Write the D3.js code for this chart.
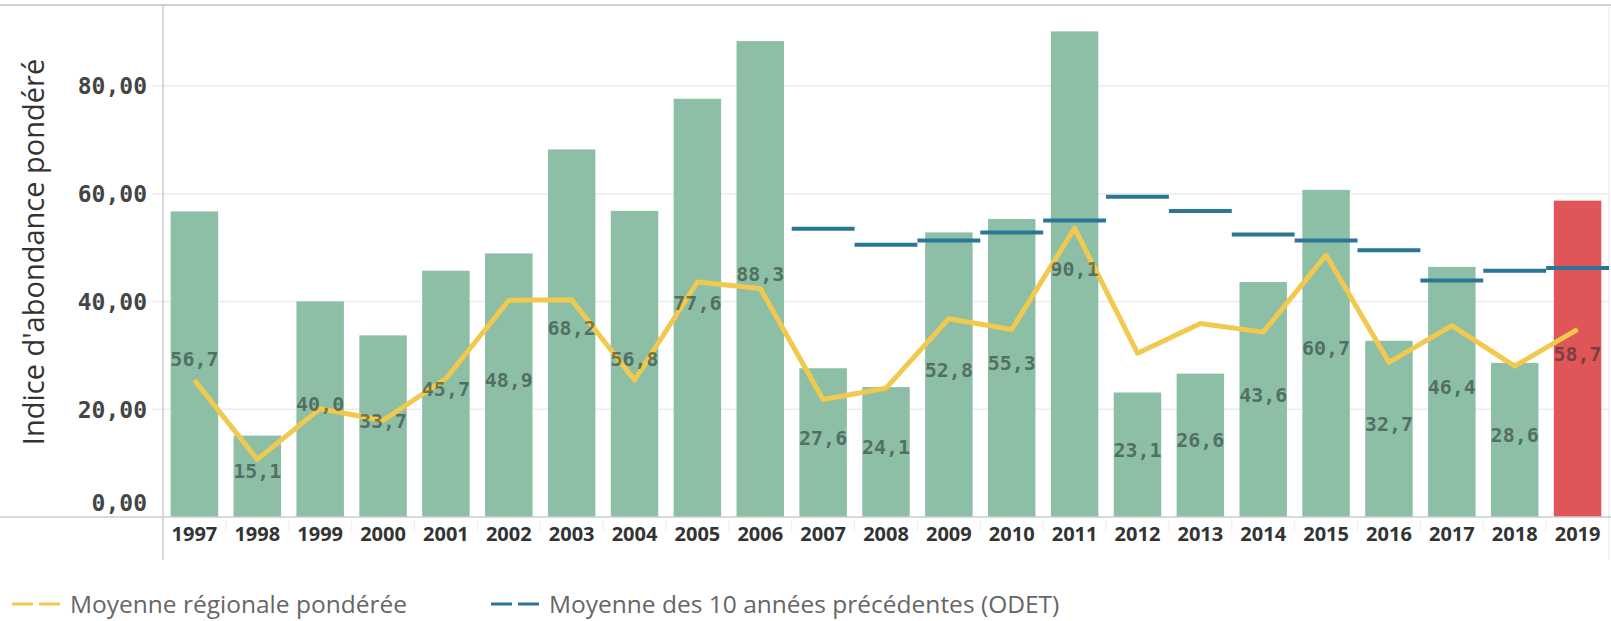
<!DOCTYPE html>
<html>
<head>
<meta charset="utf-8">
<script src="https://cdn.jsdelivr.net/npm/d3@7"></script>
<style>
  body { margin: 0; background: #fff; }
  svg { display: block; }
</style>
</head>
<body>
<div id="chart"></div>
<script>
// years shown on the x axis
var years = ["1997","1998","1999","2000","2001","2002","2003","2004","2005","2006","2007","2008",
  "2009","2010","2011","2012","2013","2014","2015","2016","2017","2018","2019"];
// bars: indice d'abondance pondéré
var indice = [56.7,15.1,40.0,33.7,45.7,48.9,68.2,56.8,77.6,88.3,27.6,24.1,52.8,55.3,90.1,23.1,26.6,43.6,60.7,32.7,46.4,28.6,58.7];
// yellow line: moyenne régionale pondérée
var moyenneRegionale = [25.4,10.7,20.1,17.9,25.7,40.2,40.3,25.4,43.6,42.4,21.8,23.9,36.8,34.8,53.6,30.4,35.9,34.3,48.6,28.7,35.5,28.0,34.8];
// blue segments: moyenne des 10 années précédentes (from 2007)
var odetYears = ["2007","2008","2009","2010","2011","2012","2013","2014","2015","2016","2017","2018","2019"];
var odet = [53.5,50.5,51.3,52.8,55.0,59.4,56.8,52.4,51.3,49.5,43.9,45.7,46.2];
var yTicks = [0, 20, 40, 60, 80];
var currentYear = "2019";

var W = 1611, H = 621;
var plotLeft = 163, plotRight = 1609, plotTop = 5, plotBottom = 517;

var svg = d3.select("#chart").append("svg")
  .attr("width", W)
  .attr("height", H);

var x = d3.scaleBand()
  .domain(years)
  .range([plotLeft, plotRight])
  .paddingInner(0.245)
  .paddingOuter(0.1225);

var y = d3.scaleLinear()
  .domain([0, 95])
  .range([plotBottom, plotTop]);

var fmt = function (v) { return d3.format(".1f")(v).replace(".", ","); };

// gridlines
svg.append("g")
  .selectAll("line")
  .data(yTicks.filter(function (d) { return d > 0; }))
  .enter().append("line")
  .attr("x1", plotLeft - 11)
  .attr("x2", plotRight)
  .attr("y1", function (d) { return y(d); })
  .attr("y2", function (d) { return y(d); })
  .attr("stroke", "#ececec")
  .attr("stroke-width", 1.5);

// frame lines
svg.append("line").attr("x1", 0).attr("x2", W).attr("y1", 5).attr("y2", 5)
  .attr("stroke", "#cfcfcf").attr("stroke-width", 2);
svg.append("line").attr("x1", plotRight).attr("x2", plotRight).attr("y1", 5).attr("y2", 560)
  .attr("stroke", "#e4e4e4").attr("stroke-width", 1);

// bars
svg.append("g")
  .selectAll("rect")
  .data(years)
  .enter().append("rect")
  .attr("x", function (d) { return x(d); })
  .attr("width", x.bandwidth())
  .attr("y", function (d, i) { return y(indice[i]); })
  .attr("height", function (d, i) { return y(0) - y(indice[i]); })
  .attr("fill", function (d) { return d === currentYear ? "#e05558" : "#8dbea6"; });

// baseline and y axis line
svg.append("line").attr("x1", 0).attr("x2", W).attr("y1", plotBottom).attr("y2", plotBottom)
  .attr("stroke", "#cccccc").attr("stroke-width", 1.5);
svg.append("line").attr("x1", plotLeft).attr("x2", plotLeft).attr("y1", 5).attr("y2", 560)
  .attr("stroke", "#cccccc").attr("stroke-width", 1.5);

// small separators under the baseline, between the years
svg.append("g")
  .selectAll("line")
  .data(years.slice(1))
  .enter().append("line")
  .attr("x1", function (d) { return x(d) - x.step() * x.paddingInner() / 2; })
  .attr("x2", function (d) { return x(d) - x.step() * x.paddingInner() / 2; })
  .attr("y1", plotBottom)
  .attr("y2", plotBottom + 14)
  .attr("stroke", "#eeeeee")
  .attr("stroke-width", 1);

// x axis labels
var xAxis = d3.axisBottom(x).tickSize(0).tickPadding(10);
var gx = svg.append("g")
  .attr("transform", "translate(0," + plotBottom + ")")
  .call(xAxis);
gx.select(".domain").remove();
gx.selectAll("text")
  .attr("dy", "0.72em")
  .style("font-family", "'Open Sans', sans-serif")
  .style("font-size", "20px")
  .style("font-weight", "bold")
  .style("fill", "#333");

// y axis labels
var yAxis = d3.axisLeft(y).tickValues(yTicks).tickSize(0).tickPadding(16)
  .tickFormat(function (d) { return d3.format(".2f")(d).replace(".", ","); });
var gy = svg.append("g")
  .attr("transform", "translate(" + plotLeft + ",0)")
  .call(yAxis);
gy.select(".domain").remove();
gy.selectAll("text")
  .style("font-family", "'DejaVu Sans Mono', monospace")
  .style("font-size", "23px")
  .style("font-weight", "bold")
  .style("fill", "#454545")
  .attr("dy", function (d) { return d === 0 ? "-0.3em" : "0.34em"; });

// y axis title
svg.append("text")
  .attr("transform", "translate(44," + 252 + ") rotate(-90)")
  .attr("text-anchor", "middle")
  .style("font-family", "'Open Sans', sans-serif")
  .style("font-size", "29px")
  .style("fill", "#333")
  .text("Indice d'abondance pondéré");

// yellow line
var line = d3.line()
  .x(function (d, i) { return x(years[i]) + x.bandwidth() / 2; })
  .y(function (d) { return y(d); });
svg.append("path")
  .datum(moyenneRegionale)
  .attr("d", line)
  .attr("fill", "none")
  .attr("stroke", "#f0c94e")
  .attr("stroke-width", 5)
  .attr("stroke-linejoin", "round");

// blue ODET segments, one per year band
svg.append("g")
  .selectAll("line")
  .data(odetYears)
  .enter().append("line")
  .attr("x1", function (d) { return x(d) + x.bandwidth() / 2 - x.step() / 2; })
  .attr("x2", function (d) { return x(d) + x.bandwidth() / 2 + x.step() / 2; })
  .attr("y1", function (d, i) { return y(odet[i]); })
  .attr("y2", function (d, i) { return y(odet[i]); })
  .attr("stroke", "#2b7597")
  .attr("stroke-width", 4);

// value labels, centred in the bars
svg.append("g")
  .selectAll("text")
  .data(years)
  .enter().append("text")
  .attr("x", function (d) { return x(d) + x.bandwidth() / 2; })
  .attr("y", function (d, i) { return y(indice[i] / 2); })
  .attr("dy", "0.1em")
  .attr("text-anchor", "middle")
  .style("font-family", "'DejaVu Sans Mono', monospace")
  .style("font-size", "20px")
  .style("font-weight", "bold")
  .style("fill", "rgba(30,45,38,0.55)")
  .text(function (d, i) { return fmt(indice[i]); });

// legend
var legend = [
  { label: "Moyenne régionale pondérée", color: "#f0c94e", x: 12 },
  { label: "Moyenne des 10 années précédentes (ODET)", color: "#2b7597", x: 491 }
];
var lg = svg.append("g").selectAll("g")
  .data(legend)
  .enter().append("g")
  .attr("transform", function (d) { return "translate(" + d.x + ",604)"; });
lg.append("line")
  .attr("x1", 0).attr("x2", 48)
  .attr("stroke", function (d) { return d.color; })
  .attr("stroke-width", 3)
  .attr("stroke-dasharray", "21,6");
lg.append("text")
  .attr("x", 58)
  .attr("dy", "0.35em")
  .style("font-family", "'Open Sans', sans-serif")
  .style("font-size", "24.5px")
  .style("fill", "#666")
  .text(function (d) { return d.label; });
</script>
</body>
</html>
